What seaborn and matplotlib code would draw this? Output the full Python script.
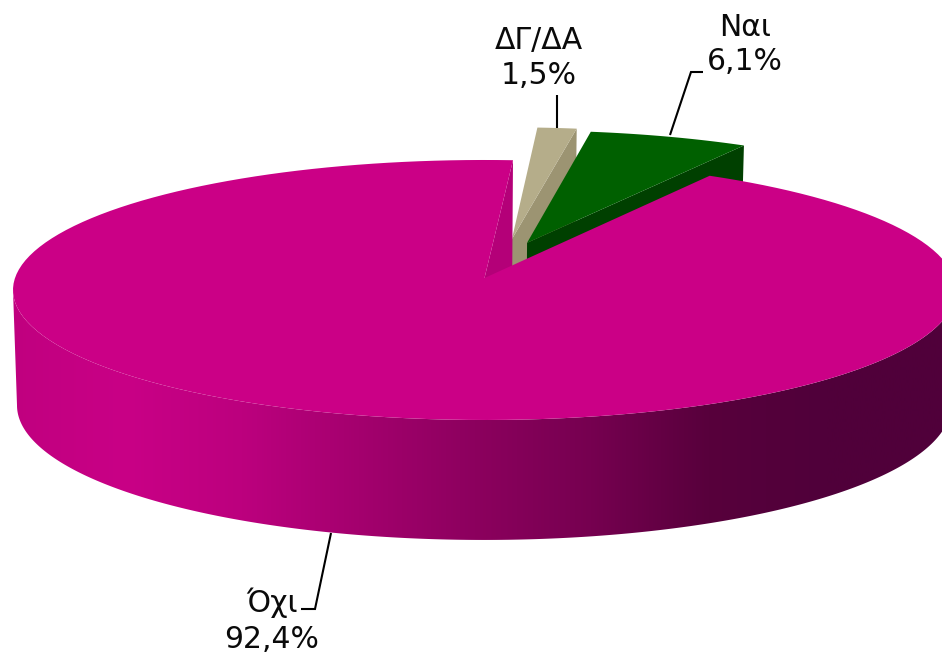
import numpy as np
import matplotlib
matplotlib.use("Agg")
import matplotlib.pyplot as plt
from matplotlib.patches import Polygon
import seaborn as sns

labels = ["ΔΓ/ΔΑ", "Ναι", "Όχι"]
shares = [1.5, 6.1, 92.4]
share_labels = ["1,5%", "6,1%", "92,4%"]

top_colors = ["#B5AD8A", "#006000", "#CB0086"]
wall_colors = ["#9C9472", "#004000", "#B40078"]
side_stops = ["#C0007F", "#C90086", "#BC007E", "#A4006E", "#8C005E",
              "#760050", "#58003C", "#50003A", "#50003A"]

sns.set_theme(style="white")
plt.rcParams["font.family"] = ["DejaVu Sans"]

W, H = 942, 660
fig = plt.figure(figsize=(W / 100, H / 100), dpi=100)
ax = fig.add_axes([0, 0, 1, 1])
ax.set_axis_off()

K = 0.0922
TOP = dict(cx=484.5, cy=278.0, rx=469.5, ry=128.9)
BOT = dict(cx=484.0, cy=393.0, rx=465.0, ry=133.4)
START = 3.8
EXPLODE = {0: (0.06, 0.31), 1: (0.093, 0.28), 2: (0.0, 0.0)}


def project(u, v, disk):
    w = 1 + K * v
    return disk["cx"] + disk["rx"] * u / w, disk["cy"] - disk["ry"] * v / w


def rim(a0, a1, shift, disk, n=160):
    t = np.radians(np.linspace(a0, a1, n))
    return project(np.sin(t) + shift[0], np.cos(t) + shift[1], disk)


spans = np.array(shares) * 3.6
edges = START + np.concatenate([[0], np.cumsum(spans)])
widest = np.degrees(np.arccos(-K))

for i in range(3):
    a0, a1 = edges[i], edges[i + 1]
    s = EXPLODE[i]
    tx, ty = rim(a0, a1, s, TOP)
    bx, by = rim(a0, a1, s, BOT)
    ax0, ay0 = project(s[0], s[1], TOP)
    bx0, by0 = project(s[0], s[1], BOT)
    ax.fill([ax0, tx[-1], bx[-1], bx0], [ay0, ty[-1], by[-1], by0],
            color=wall_colors[i], lw=0, zorder=1 + i)
    if i == 2:
        x1, y1 = rim(widest, 360 - widest, s, TOP, 300)
        x2, y2 = rim(widest, 360 - widest, s, BOT, 300)
        pal = np.array(sns.blend_palette(side_stops, 256))[:, :3]
        im = ax.imshow(pal[None, :, :], extent=(8, 942, 0, 660),
                       aspect="auto", interpolation="bilinear", zorder=3)
        im.set_clip_path(Polygon(np.c_[np.r_[x1, x2[::-1]], np.r_[y1, y2[::-1]]],
                                 transform=ax.transData))
    ax.fill(np.r_[ax0, tx], np.r_[ay0, ty], color=top_colors[i], lw=0,
            zorder=1 + i + 0.5 * (i == 2) + 0.1)

ax.set_xlim(0, W)
ax.set_ylim(H, 0)

leaders = [
    ([557, 557], [128, 95]),
    ([670, 691, 703], [135, 72, 72]),
    ([331, 315, 301], [533, 609, 609]),
]
for lx, ly in leaders:
    ax.plot(lx, ly, color="black", lw=1.5, solid_joinstyle="miter", solid_capstyle="butt", zorder=5)

name_pos = [(539, 40), (745, 27), (272, 603)]
value_pos = [(539, 76), (745, 61), (272, 639)]
for i in range(3):
    ax.text(*name_pos[i], labels[i], ha="center", va="center", fontsize=21.5, color="#0a0a0a", zorder=6)
    ax.text(*value_pos[i], share_labels[i], ha="center", va="center", fontsize=21.5, color="#0a0a0a", zorder=6)

fig.savefig("out.png", dpi=100)
